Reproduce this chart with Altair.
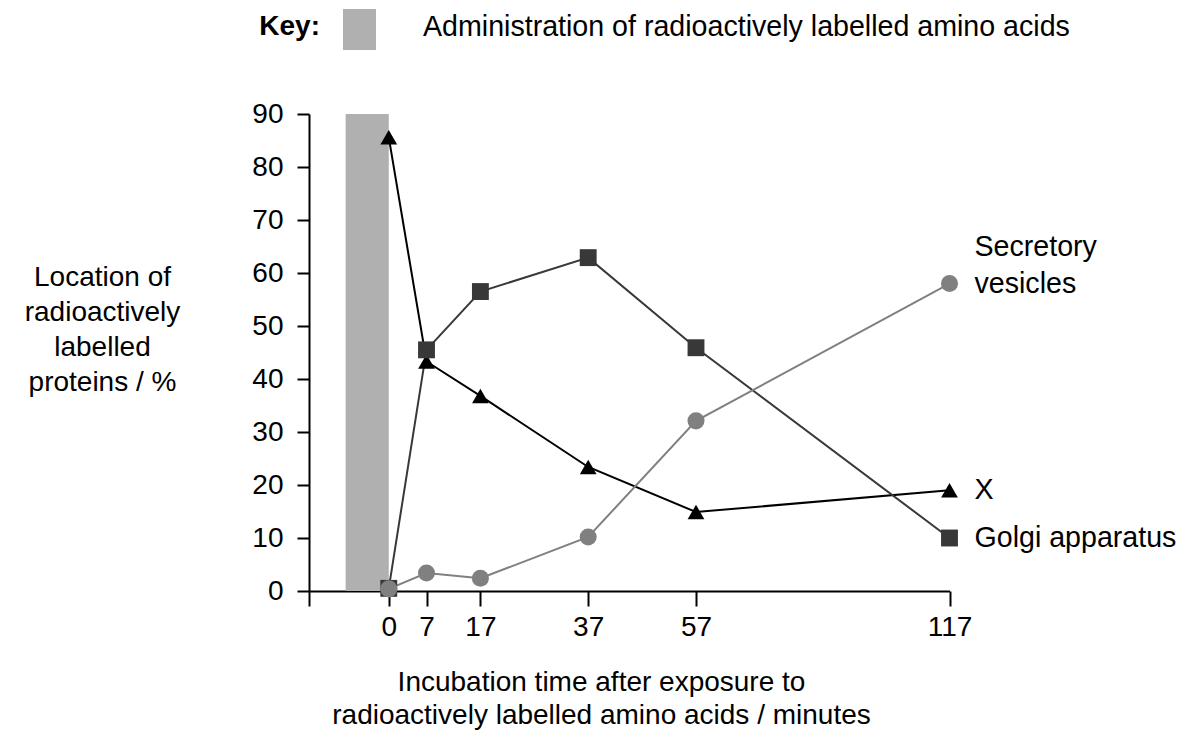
import altair as alt
import pandas as pd

# ---- data ----
times = [0, 7, 17, 37, 57, 117]
series_names = ["X", "Golgi apparatus", "Secretory vesicles"]
x_values = [85.6, 43.3, 36.8, 23.4, 14.9, 19.0]
golgi_values = [0.5, 45.5, 56.5, 62.9, 45.9, 10.0]
vesicle_values = [0.4, 3.4, 2.4, 10.2, 32.1, 58.0]
series_colors = ["#000000", "#383838", "#808080"]
series_shapes = ["triangle-up", "square", "circle"]
series_sizes = [280, 290, 255]
x_tick_values = [-14.8, 0, 7, 17, 37, 57, 117]
y_tick_values = [0, 10, 20, 30, 40, 50, 60, 70, 80, 90]
admin_start = [-8]
admin_end = [0]
admin_top = [90]
y_title = ["Location of", "radioactively", "labelled", "proteins / %"]
x_title = ["Incubation time after exposure to",
           "radioactively labelled amino acids / minutes"]
key_label = "Administration of radioactively labelled amino acids"

FONT = "Liberation Sans"
W, H = 640.5, 477
FS = 28

rows = []
for name, vals in zip(series_names, [x_values, golgi_values, vesicle_values]):
    for t, v in zip(times, vals):
        rows.append({"series": name, "time": t, "value": v})
df = pd.DataFrame(rows)

bar_df = pd.DataFrame({"start": admin_start, "end": admin_end,
                       "bottom": [0], "top": admin_top})

last = df[df["time"] == times[-1]]
lab_single = last[last["series"] != "Secretory vesicles"].copy()
lab_single["label"] = lab_single["series"]
lab_ves = last[last["series"] == "Secretory vesicles"].copy()
lab_ves["label"] = "Secretory\nvesicles"

xscale = alt.Scale(domain=[x_tick_values[0], 57, 117], range=[0, 387, W],
                   nice=False, zero=False)
yscale = alt.Scale(domain=[0, 90], nice=False, zero=False)

color_scale = alt.Scale(domain=series_names, range=series_colors)
shape_scale = alt.Scale(domain=series_names, range=series_shapes)
size_scale = alt.Scale(domain=series_names, range=series_sizes)

x_axis = alt.Axis(values=x_tick_values, labelExpr="datum.value < 0 ? '' : datum.label",
                  title=x_title, titleX=292, titleY=91, titleAlign="center",
                  titleBaseline="middle", titleAnchor="start",
                  titleLineHeight=33, titleFontSize=FS, titleFontWeight="normal",
                  titleFont=FONT, titleColor="#000",
                  labelFont=FONT, labelFontSize=FS, labelColor="#000", labelPadding=7,
                  tickSize=15, tickWidth=2, tickColor="#000",
                  domainWidth=2, domainColor="#000", grid=False, labelFlush=False,
                  labelOverlap=False)
y_axis = alt.Axis(values=y_tick_values, format="d",
                  title=y_title, titleAngle=0, titleX=-207, titleY=163,
                  titleAlign="center", titleBaseline="middle", titleAnchor="start",
                  titleLineHeight=35, titleFontSize=FS, titleFontWeight="normal",
                  titleFont=FONT, titleColor="#000",
                  labelFont=FONT, labelFontSize=FS, labelColor="#000", labelPadding=14,
                  tickSize=12, tickWidth=2, tickColor="#000",
                  domainWidth=2, domainColor="#000", grid=False, labelFlush=False,
                  labelOverlap=False)

bar = alt.Chart(bar_df).mark_rect(color="#b0b0b0").encode(
    x=alt.X("start:Q", scale=xscale, axis=x_axis),
    x2="end:Q",
    y=alt.Y("bottom:Q", scale=yscale, axis=y_axis),
    y2="top:Q",
)

lines = alt.Chart(df).mark_line(strokeWidth=2).encode(
    x=alt.X("time:Q", scale=xscale),
    y=alt.Y("value:Q", scale=yscale),
    color=alt.Color("series:N", scale=color_scale, legend=None),
    detail="series:N",
)

points = alt.Chart(df).mark_point(filled=True, opacity=1).encode(
    x=alt.X("time:Q", scale=xscale),
    y=alt.Y("value:Q", scale=yscale),
    color=alt.Color("series:N", scale=color_scale, legend=None),
    shape=alt.Shape("series:N", scale=shape_scale, legend=None),
    size=alt.Size("series:N", scale=size_scale, legend=None),
)

labels = alt.Chart(lab_single).mark_text(
    align="left", baseline="middle", dx=25, font=FONT, fontSize=28.6, color="#000"
).encode(
    x=alt.X("time:Q", scale=xscale),
    y=alt.Y("value:Q", scale=yscale),
    text="label:N",
)

labels_ves = alt.Chart(lab_ves).mark_text(
    align="left", baseline="middle", dx=25, dy=-37, lineBreak="\n",
    lineHeight=37, font=FONT, fontSize=28.6, color="#000"
).encode(
    x=alt.X("time:Q", scale=xscale),
    y=alt.Y("value:Q", scale=yscale),
    text="label:N",
)

key_word = alt.Chart(bar_df).mark_text(
    align="right", baseline="middle", font=FONT, fontSize=FS, fontWeight="bold",
    color="#000"
).encode(x=alt.value(11), y=alt.value(-87), text=alt.value("Key:"))

key_box = alt.Chart(bar_df).mark_rect(color="#b0b0b0").encode(
    x=alt.value(34), x2=alt.value(67), y=alt.value(-105), y2=alt.value(-64)
)

key_text = alt.Chart(bar_df).mark_text(
    align="left", baseline="middle", font=FONT, fontSize=28.6, color="#000"
).encode(x=alt.value(114), y=alt.value(-87), text=alt.value(key_label))

chart = alt.layer(bar, lines, points, labels, labels_ves, key_word, key_box, key_text).properties(
    width=W, height=H,
    autosize=alt.AutoSizeParams(type="none"),
    padding={"left": 301, "top": 106, "right": 230, "bottom": 148},
).configure(background="white").configure_view(stroke="transparent", strokeWidth=0)

chart.save("out.html", embed_options={"renderer": "svg", "actions": False})
